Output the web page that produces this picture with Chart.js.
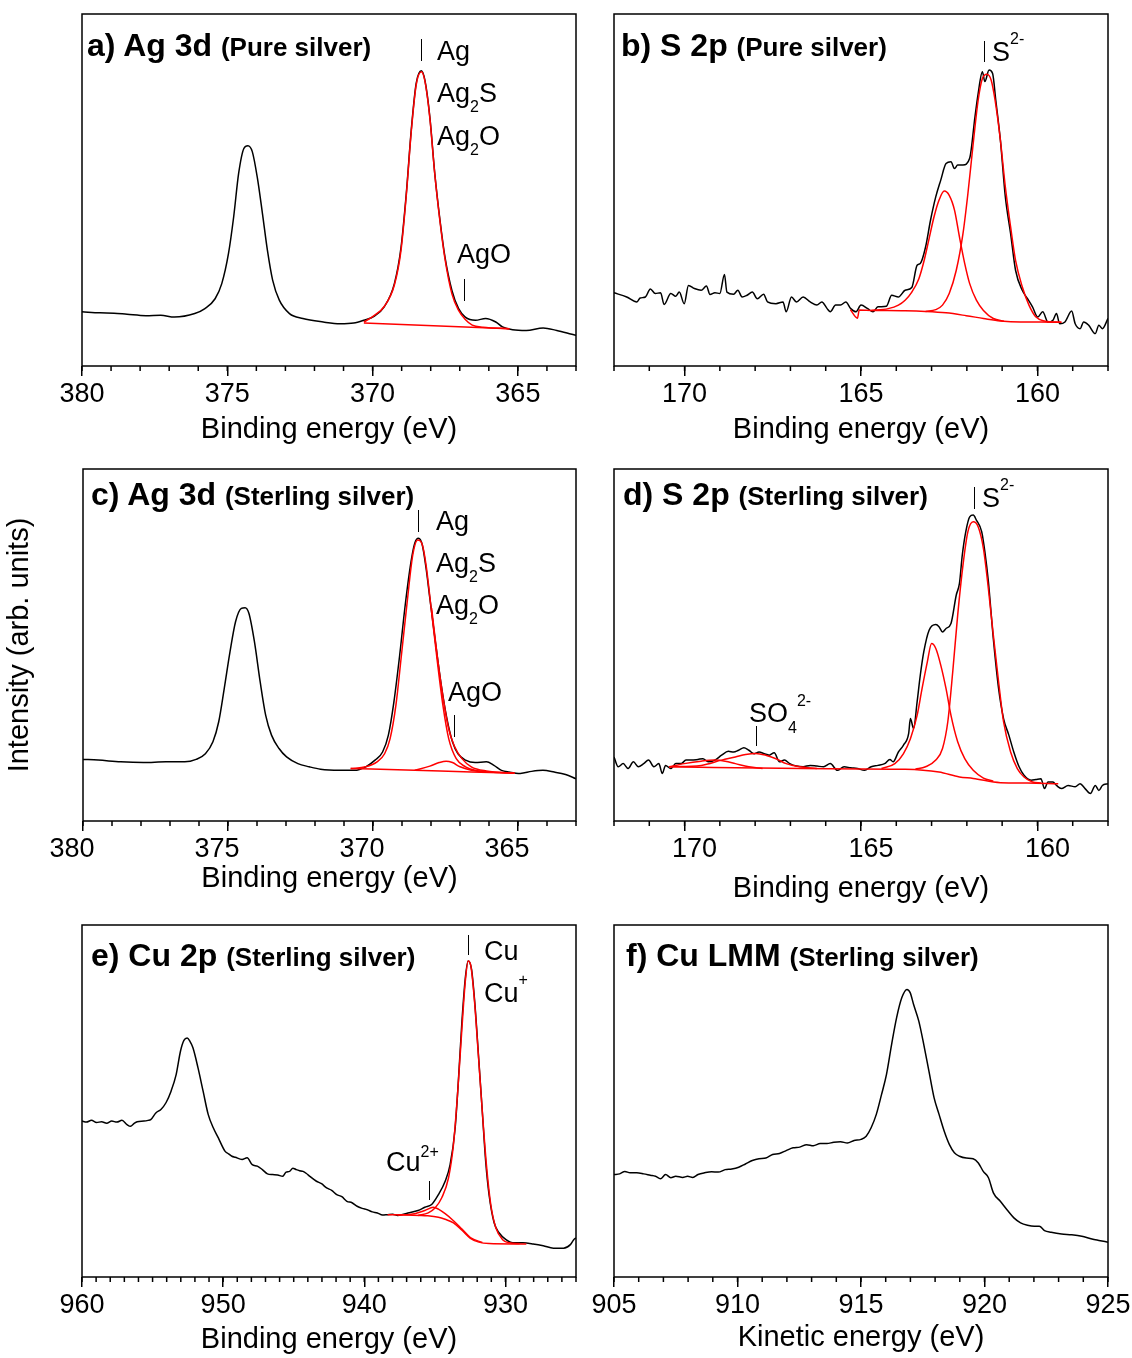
<!DOCTYPE html>
<html lang="en">
<head>
<meta charset="UTF-8">
<title>XPS spectra</title>
<style>
  html, body { margin: 0; padding: 0; background: #fff; overflow: hidden; }
  body { width: 1132px; height: 1358px; position: relative; font-family: "Liberation Sans", Arial, sans-serif; color: #000; }
  canvas { position: absolute; }
  .txt { position: absolute; line-height: 1; white-space: nowrap; }
  .txt sub, .txt sup { font-size: 16px; line-height: 0; }
  .bar { position: absolute; width: 0; border-left: 1.5px solid #000; }
</style>
<script src="https://cdn.jsdelivr.net/npm/chart.js"></script>
</head>
<body>
<script>
// tick labels
const ag3dTicks = [380, 375, 370, 365];
const s2pTicks = [170, 165, 160];
const cu2pTicks = [960, 950, 940, 930];
const lmmTicks = [905, 910, 915, 920, 925];

// a) Ag 3d, pure silver  [energy eV, intensity arb.]
const agPureExp = [[380.00,15.4],[379.38,15.1],[378.90,15.0],[378.45,14.7],[377.80,14.3],[377.29,14.4],[376.82,13.9],[376.12,14.9],[375.77,16.3],[375.42,19.1],[375.19,23.4],[374.96,31.9],[374.78,42.4],[374.61,54.7],[374.43,61.8],[374.29,62.6],[374.14,60.9],[373.97,53.7],[373.79,43.3],[373.62,32.9],[373.44,24.4],[373.21,18.7],[372.86,14.9],[372.40,13.5],[371.70,12.5],[371.12,12.0],[370.65,12.2],[370.30,13.0],[369.95,14.1],[369.60,16.8],[369.25,23.4],[369.02,33.8],[368.84,49.0],[368.67,67.0],[368.50,80.3],[368.32,83.9],[368.20,81.2],[368.03,70.8],[367.86,54.7],[367.68,41.4],[367.51,31.0],[367.27,21.5],[367.04,16.3],[366.81,13.9],[366.46,13.0],[366.11,13.5],[365.76,12.5],[365.53,11.1],[365.18,10.3],[364.71,10.1],[364.13,10.8],[363.66,10.1],[363.31,9.4],[363.00,8.7]];
const agPureFit = [[370.30,12.5],[369.95,14.3],[369.60,16.9],[369.25,23.0],[369.02,33.0],[368.84,48.5],[368.67,66.5],[368.50,79.8],[368.32,83.6],[368.20,81.0],[368.03,70.5],[367.86,54.5],[367.68,41.0],[367.51,30.5],[367.27,20.5],[367.04,15.8],[366.81,13.2],[366.57,11.6],[366.20,11.0],[365.29,10.6]];
const agPureBase = [[370.30,12.2],[365.29,10.6]];

// b) S 2p, pure silver
const sPureExp = [[172.00,20.8],[171.64,19.6],[171.35,18.2],[171.26,19.3],[171.11,19.6],[170.97,21.9],[170.83,20.6],[170.68,20.8],[170.58,17.5],[170.39,20.6],[170.25,19.8],[170.15,21.0],[170.01,17.7],[169.89,22.9],[169.72,22.0],[169.53,21.5],[169.38,22.7],[169.28,20.3],[169.14,20.8],[169.00,20.6],[168.87,26.0],[168.80,21.0],[168.61,20.4],[168.49,21.5],[168.37,19.6],[168.23,20.1],[168.08,21.0],[167.94,19.1],[167.76,20.4],[167.65,18.2],[167.41,17.7],[167.21,18.2],[167.12,15.4],[166.97,19.6],[166.83,18.2],[166.64,19.6],[166.44,18.2],[166.25,17.3],[166.11,18.2],[165.96,16.3],[165.87,15.4],[165.72,17.3],[165.58,17.3],[165.43,18.2],[165.29,16.3],[165.14,15.4],[165.00,17.3],[164.81,16.3],[164.66,15.4],[164.52,16.8],[164.28,17.0],[164.13,20.1],[163.94,19.6],[163.75,21.5],[163.56,22.3],[163.41,28.6],[163.32,29.1],[163.17,33.8],[163.03,41.4],[162.88,48.1],[162.74,52.8],[162.59,57.5],[162.45,58.0],[162.35,56.1],[162.26,57.1],[162.11,57.1],[161.92,59.0],[161.77,70.8],[161.68,77.4],[161.56,83.6],[161.49,80.8],[161.37,84.1],[161.27,83.1],[161.18,75.5],[161.05,64.2],[160.91,48.1],[160.76,37.6],[160.62,27.2],[160.43,21.5],[160.28,19.1],[160.14,16.8],[159.99,13.9],[159.85,15.4],[159.70,12.5],[159.56,13.0],[159.46,14.9],[159.37,12.0],[159.22,12.5],[159.03,15.6],[158.93,12.0],[158.79,10.6],[158.69,12.5],[158.55,11.6],[158.36,9.2],[158.26,11.6],[158.16,10.6],[158.00,13.5]];
const sPureComp1 = [[164.71,15.8],[164.23,16.3],[163.94,17.3],[163.75,18.7],[163.56,21.0],[163.36,24.8],[163.22,29.6],[163.07,36.2],[162.93,42.4],[162.79,47.1],[162.64,49.7],[162.50,48.5],[162.35,44.3],[162.21,36.7],[162.06,29.1],[161.92,23.4],[161.73,18.7],[161.53,15.8],[161.25,13.5],[160.95,12.7]];
const sPureComp2 = [[163.17,15.5],[162.88,16.0],[162.69,17.3],[162.50,20.6],[162.30,27.2],[162.11,37.6],[161.97,49.0],[161.82,63.2],[161.68,75.5],[161.56,81.7],[161.43,82.9],[161.31,81.2],[161.20,75.5],[161.05,64.2],[160.91,50.9],[160.76,39.5],[160.62,30.0],[160.43,22.5],[160.24,17.3],[160.04,13.9],[159.80,12.8],[159.32,12.4]];
const sPureBase = [[165.30,16.0],[165.10,13.6],[165.05,15.9],[164.71,15.8],[163.75,15.7],[163.17,15.5],[162.59,15.1],[162.02,14.3],[161.53,13.5],[161.05,12.8],[160.48,12.5],[159.90,12.5],[159.32,12.4]];

// c) Ag 3d, sterling silver
const agSterExp = [[380.00,17.5],[379.48,17.3],[378.70,16.8],[377.92,16.6],[377.14,16.8],[376.49,16.8],[376.10,17.5],[375.78,19.1],[375.52,22.5],[375.32,28.2],[375.13,37.6],[374.93,48.1],[374.74,56.6],[374.54,60.4],[374.41,60.6],[374.28,59.0],[374.09,51.0],[373.89,39.5],[373.70,30.0],[373.50,24.4],[373.24,20.6],[372.98,18.2],[372.59,16.3],[372.20,15.4],[371.81,14.7],[371.16,14.4],[370.64,14.4],[370.25,15.4],[369.93,17.3],[369.67,19.6],[369.47,24.4],[369.28,33.8],[369.08,47.1],[368.89,61.3],[368.69,73.6],[368.56,78.9],[368.43,80.3],[368.30,78.4],[368.17,71.8],[368.04,63.3],[367.85,51.0],[367.65,38.8],[367.46,29.4],[367.26,22.5],[367.07,19.1],[366.81,17.3],[366.48,16.6],[366.09,16.8],[365.83,15.8],[365.57,14.4],[365.31,13.9],[364.92,13.5],[364.53,14.1],[364.14,14.4],[363.75,13.9],[363.36,13.2],[363.00,12.0]];
const agSterFit = [[370.77,14.9],[370.25,15.4],[369.86,16.8],[369.60,19.1],[369.41,23.4],[369.21,32.9],[369.02,47.1],[368.82,62.3],[368.63,75.5],[368.46,79.8],[368.30,78.5],[368.17,72.7],[367.98,59.4],[367.78,45.2],[367.59,32.9],[367.39,23.4],[367.13,17.7],[366.81,15.4],[366.48,14.4],[365.96,13.9],[365.12,13.6]];
const agSterEnv = [[367.98,60.5],[367.78,46.6],[367.59,35.5],[367.39,26.2],[367.20,21.4],[366.94,17.8],[366.61,15.4],[366.09,14.2],[365.12,13.6]];
const agSterAgO = [[368.56,14.4],[368.04,15.6],[367.72,16.6],[367.48,17.0],[367.26,16.6],[367.00,15.4],[366.61,14.4],[366.22,13.9]];
const agSterBase = [[370.77,14.9],[368.56,14.4],[366.61,13.9],[365.12,13.6]];

// d) S 2p, sterling silver
const sSterExp = [[172.00,18.2],[171.88,15.4],[171.74,16.3],[171.60,14.9],[171.45,16.8],[171.31,15.4],[171.16,16.3],[171.02,17.3],[170.87,15.4],[170.73,16.3],[170.63,13.5],[170.54,15.8],[170.39,14.9],[170.25,16.3],[170.10,16.3],[169.96,17.3],[169.81,17.3],[169.62,17.5],[169.48,17.7],[169.33,16.8],[169.14,17.3],[168.95,18.7],[168.76,19.8],[168.61,19.6],[168.47,20.1],[168.32,20.8],[168.18,20.1],[168.03,19.1],[167.89,19.6],[167.74,19.1],[167.60,18.7],[167.46,19.4],[167.31,16.8],[167.17,17.3],[167.02,16.3],[166.83,15.6],[166.64,15.4],[166.44,15.8],[166.25,15.6],[166.06,15.4],[165.87,16.3],[165.67,14.4],[165.48,15.4],[165.29,15.1],[165.10,14.9],[164.90,14.4],[164.71,15.4],[164.52,15.8],[164.33,16.3],[164.18,17.5],[164.09,16.8],[163.94,19.6],[163.80,21.5],[163.65,24.8],[163.60,29.1],[163.51,26.3],[163.41,33.8],[163.32,41.4],[163.22,48.1],[163.07,54.2],[162.88,55.8],[162.79,55.2],[162.69,53.7],[162.59,54.7],[162.45,56.1],[162.30,64.2],[162.21,67.5],[162.13,75.5],[162.03,82.2],[161.92,86.4],[161.82,86.9],[161.73,85.5],[161.58,82.2],[161.49,76.5],[161.39,68.0],[161.25,51.8],[161.10,37.6],[160.96,29.1],[160.81,24.4],[160.67,19.6],[160.52,15.4],[160.38,13.0],[160.18,11.6],[160.04,11.8],[159.90,12.0],[159.80,9.2],[159.70,11.1],[159.56,11.1],[159.46,10.1],[159.32,9.2],[159.13,10.1],[158.93,9.7],[158.79,10.6],[158.65,9.2],[158.50,7.8],[158.36,10.1],[158.26,8.7],[158.16,10.1],[158.00,10.6]];
const sSterSO4a = [[170.44,15.4],[169.53,15.8],[168.95,17.3],[168.56,18.2],[168.27,18.9],[167.98,19.2],[167.70,18.7],[167.41,17.7],[167.12,16.3],[166.73,15.4],[166.25,14.9]];
const sSterSO4b = [[170.44,15.4],[170.01,16.3],[169.53,17.0],[169.14,17.3],[168.85,17.0],[168.56,16.3],[168.18,15.4],[167.79,14.9]];
const sSterComp1 = [[164.42,14.9],[164.04,16.3],[163.80,19.1],[163.60,23.4],[163.41,30.0],[163.27,37.6],[163.12,45.2],[163.00,50.4],[162.88,49.0],[162.74,44.3],[162.59,37.6],[162.45,30.0],[162.26,22.5],[162.06,17.7],[161.82,14.4],[161.53,12.2],[161.25,11.3]];
const sSterComp2 = [[163.46,14.7],[163.17,15.4],[162.88,17.3],[162.69,20.6],[162.54,28.2],[162.40,42.4],[162.26,58.5],[162.11,72.7],[161.97,82.2],[161.82,85.0],[161.68,83.6],[161.53,77.4],[161.39,66.0],[161.25,52.8],[161.10,39.5],[160.96,28.2],[160.76,19.6],[160.57,14.9],[160.38,12.5],[160.14,11.1],[159.90,10.8]];
const sSterBase = [[170.44,15.4],[166.64,14.9],[163.75,14.7],[162.79,13.9],[162.21,12.5],[161.82,12.1],[161.05,10.9],[160.28,10.8],[159.41,10.6]];

// e) Cu 2p, sterling silver
const cuExp = [[960.00,44.3],[959.69,44.0],[959.33,44.5],[958.97,43.9],[958.61,44.1],[958.25,43.7],[957.89,44.3],[957.53,44.0],[957.17,44.5],[956.81,43.3],[956.57,42.8],[956.28,43.7],[956.09,44.1],[955.61,44.3],[955.32,44.5],[955.13,44.7],[954.77,46.6],[954.41,47.6],[954.05,49.5],[953.69,52.8],[953.33,57.5],[953.02,64.2],[952.78,67.2],[952.55,67.9],[952.36,67.0],[952.14,65.1],[951.78,59.4],[951.42,52.8],[951.06,46.2],[950.70,42.4],[950.34,39.5],[949.86,35.7],[949.62,35.0],[949.38,34.3],[949.14,34.0],[948.66,33.4],[948.30,33.9],[947.94,31.9],[947.58,31.5],[947.22,30.5],[946.86,29.3],[946.50,29.1],[946.14,29.0],[945.78,28.6],[945.54,29.8],[945.30,30.0],[945.06,30.9],[944.82,30.5],[944.58,30.2],[944.34,30.0],[944.10,29.4],[943.86,28.6],[943.39,27.2],[943.03,26.5],[942.67,25.3],[942.31,24.6],[941.95,23.4],[941.59,22.8],[941.23,21.5],[940.87,21.1],[940.51,20.1],[940.15,19.5],[939.79,19.1],[939.43,18.5],[939.07,18.2],[938.71,17.6],[938.35,17.7],[937.99,17.8],[937.63,17.5],[936.91,18.2],[936.19,18.9],[935.71,19.8],[935.23,20.6],[934.75,23.4],[934.27,27.2],[933.92,31.9],[933.56,42.4],[933.32,56.6],[933.08,72.7],[932.84,85.0],[932.64,89.8],[932.40,87.4],[932.16,77.4],[931.88,61.3],[931.64,47.1],[931.40,32.9],[931.16,23.4],[930.80,15.4],[930.44,12.5],[929.96,10.6],[929.48,9.7],[928.76,9.7],[928.04,9.4],[927.32,8.9],[926.60,8.2],[925.88,8.2],[925.40,9.2],[925.16,10.6],[925.00,11.1]];
const cuFit = [[936.19,17.5],[935.47,18.2],[934.99,19.6],[934.51,22.5],[934.03,28.2],[933.68,37.7],[933.36,53.8],[933.08,70.8],[932.84,84.1],[932.64,89.8],[932.45,88.4],[932.21,79.3],[931.92,63.2],[931.64,47.1],[931.35,32.0],[931.04,20.6],[930.68,14.0],[930.20,10.6],[929.72,9.7],[929.00,9.5]];
const cuFit2 = [[937.63,17.6],[936.43,18.0],[935.71,18.9],[935.11,19.8],[934.75,19.3],[934.27,18.0],[933.68,16.0],[933.08,13.6],[932.48,11.2],[931.64,9.8]];
const cuBase = [[938.35,17.7],[937.00,17.6],[935.50,17.4],[934.75,17.0],[934.27,16.4],[933.68,15.4],[933.08,13.3],[932.48,11.0],[931.88,9.9],[931.16,9.5],[929.50,9.4],[928.52,9.4]];

// f) Cu LMM, sterling silver (kinetic energy)
const cuLmmExp = [[905.00,29.1],[905.23,29.3],[905.44,30.0],[905.65,29.6],[905.92,29.6],[906.20,29.3],[906.47,28.9],[906.68,28.6],[906.88,27.9],[907.09,29.1],[907.30,28.2],[907.50,28.6],[907.78,28.3],[907.98,28.6],[908.19,28.3],[908.40,29.1],[908.67,29.6],[908.95,29.9],[909.22,29.8],[909.50,30.5],[909.77,30.7],[910.05,31.2],[910.32,32.1],[910.60,33.1],[910.87,33.6],[911.15,33.8],[911.42,34.8],[911.70,35.1],[911.97,35.9],[912.25,36.7],[912.52,36.9],[912.80,37.6],[913.07,37.3],[913.35,37.9],[913.62,37.9],[913.90,38.3],[914.17,38.4],[914.45,38.1],[914.72,38.8],[915.00,39.1],[915.21,40.0],[915.41,42.4],[915.62,46.2],[915.83,51.8],[916.03,57.5],[916.24,66.1],[916.44,73.6],[916.65,79.3],[916.86,81.7],[916.99,80.8],[917.13,77.4],[917.34,72.7],[917.54,66.1],[917.75,58.5],[917.96,50.9],[918.16,46.2],[918.37,41.4],[918.58,37.6],[918.78,35.3],[918.99,34.3],[919.26,33.8],[919.54,33.6],[919.75,32.4],[919.95,30.0],[920.16,28.2],[920.36,23.9],[920.64,21.5],[920.91,19.1],[921.19,16.8],[921.46,15.4],[921.74,14.7],[922.02,14.4],[922.22,14.4],[922.43,13.2],[922.70,12.7],[923.12,12.2],[923.53,12.0],[923.94,11.6],[924.35,10.8],[924.63,10.4],[925.00,9.9]];

const RED = '#ff0000';
const FONT = "'Liberation Sans', Arial, sans-serif";
Chart.defaults.font.family = FONT;
Chart.defaults.color = '#000';

const TITLE_SIZE = 29;

// frame box + short minor ticks every 1 eV
const framePlugin = {
    id: 'frame',
    afterDraw(chart) {
        const { ctx, chartArea } = chart;
        const { left, top, right, bottom } = chartArea;
        const x = chart.scales.x;
        ctx.save();
        ctx.strokeStyle = '#000';
        ctx.lineWidth = 1.5;
        ctx.strokeRect(left, top, right - left, bottom - top);
        ctx.beginPath();
        const lo = Math.ceil(Math.min(x.min, x.max));
        const hi = Math.floor(Math.max(x.min, x.max));
        for (let v = lo; v <= hi; v++) {
            const px = x.getPixelForValue(v);
            ctx.moveTo(px, bottom);
            ctx.lineTo(px, bottom + 5);
        }
        ctx.stroke();
        ctx.restore();
    }
};

const toXY = arr => arr.map(p => ({ x: p[0], y: p[1] }));

function makePanel(p) {
    const [l, t, r, b] = p.box;
    const padL = p.yTitle ? l : 40;
    const padR = 30, padT = 8, axisH = 95;
    const cv = document.createElement('canvas');
    cv.width = (r - l) + padL + padR;
    cv.height = (b - t) + padT + axisH;
    cv.style.left = (l - padL) + 'px';
    cv.style.top = (t - padT) + 'px';
    document.body.appendChild(cv);

    const datasets = p.fits.map(f => ({
        data: toXY(f), borderColor: RED, borderWidth: 1.5, pointRadius: 0,
        cubicInterpolationMode: 'monotone', fill: false
    }));
    datasets.push({
        data: toXY(p.exp), borderColor: '#000', borderWidth: 1.5, pointRadius: 0,
        cubicInterpolationMode: 'monotone', fill: false
    });

    return new Chart(cv, {
        type: 'line',
        data: { datasets },
        plugins: [framePlugin],
        options: {
            responsive: false,
            animation: false,
            layout: { padding: { left: 0, right: padR, top: padT, bottom: 0 } },
            plugins: { legend: { display: false }, tooltip: { enabled: false } },
            scales: {
                x: {
                    type: 'linear', min: p.min, max: p.max, reverse: p.reverse,
                    afterBuildTicks: s => { s.ticks = p.ticks.map(v => ({ value: v })); },
                    afterFit: s => { s.height = axisH; },
                    grid: { display: true, drawOnChartArea: false, drawTicks: true, tickLength: 10, color: '#000', lineWidth: 1.5 },
                    border: { display: false },
                    ticks: {
                        color: '#000', font: { size: 27 }, padding: 2, maxRotation: 0,
                        autoSkip: false, labelOffset: p.labelOffset || 0,
                        callback: v => String(v)
                    },
                    title: {
                        display: true, text: p.xTitle, color: '#000', font: { size: TITLE_SIZE },
                        padding: { top: 0, bottom: axisH - p.titleGap - TITLE_SIZE * 0.6 }
                    }
                },
                y: {
                    min: 0, max: 100,
                    grid: { display: false },
                    border: { display: false },
                    ticks: { display: false },
                    afterFit: s => { s.width = padL; },
                    title: p.yTitle
                        ? { display: true, text: p.yTitle, color: '#000', font: { size: TITLE_SIZE }, padding: { top: 3, bottom: 0 } }
                        : { display: false }
                }
            }
        }
    });
}

const panels = [
    { box: [82, 14, 576, 366], min: 363, max: 380, reverse: true, ticks: ag3dTicks, titleGap: 64,
      xTitle: 'Binding energy (eV)', exp: agPureExp, fits: [agPureFit, agPureBase] },
    { box: [614, 14, 1108, 366], min: 158, max: 172, reverse: true, ticks: s2pTicks, titleGap: 64,
      xTitle: 'Binding energy (eV)', exp: sPureExp, fits: [sPureComp2, sPureComp1, sPureBase] },
    { box: [83, 469, 576, 821], min: 363, max: 380, reverse: true, ticks: ag3dTicks, titleGap: 58, labelOffset: -11,
      xTitle: 'Binding energy (eV)', yTitle: 'Intensity (arb. units)', exp: agSterExp,
      fits: [agSterFit, agSterEnv, agSterAgO, agSterBase] },
    { box: [614, 469, 1108, 821], min: 158, max: 172, reverse: true, ticks: s2pTicks, titleGap: 68, labelOffset: 10,
      xTitle: 'Binding energy (eV)', exp: sSterExp,
      fits: [sSterComp2, sSterComp1, sSterSO4a, sSterSO4b, sSterBase] },
    { box: [82, 925, 576, 1277], min: 925, max: 960, reverse: true, ticks: cu2pTicks, titleGap: 63,
      xTitle: 'Binding energy (eV)', exp: cuExp, fits: [cuFit, cuFit2, cuBase] },
    { box: [614, 925, 1108, 1277], min: 905, max: 925, reverse: false, ticks: lmmTicks, titleGap: 61,
      xTitle: 'Kinetic energy (eV)', exp: cuLmmExp, fits: [] }
];
panels.forEach(makePanel);

// text annotations
function addText(x, base, html, size, bold) {
    const d = document.createElement('div');
    d.className = 'txt';
    d.style.left = x + 'px';
    d.style.top = (base - 0.8465 * size) + 'px';
    d.style.fontSize = size + 'px';
    if (bold) d.style.fontWeight = 'bold';
    d.innerHTML = html;
    document.body.appendChild(d);
}
function addBar(x, y1, y2) {
    const d = document.createElement('div');
    d.className = 'bar';
    d.style.left = x + 'px';
    d.style.top = y1 + 'px';
    d.style.height = (y2 - y1) + 'px';
    document.body.appendChild(d);
}
const small = s => '<span style="font-size:26px">' + s + '</span>';

addText(87, 56, 'a) Ag 3d ' + small('(Pure silver)'), 32, true);
addText(621, 56, 'b) S 2p ' + small('(Pure silver)'), 32, true);
addText(91, 505, 'c) Ag 3d ' + small('(Sterling silver)'), 32, true);
addText(623, 505, 'd) S 2p ' + small('(Sterling silver)'), 32, true);
addText(91, 966, 'e) Cu 2p ' + small('(Sterling silver)'), 32, true);
addText(626, 966, 'f) Cu LMM ' + small('(Sterling silver)'), 32, true);

const sub2 = '<sub style="vertical-align:-10px">2</sub>';
// a
addBar(421, 39, 61);
addText(437, 61, 'Ag', 27);
addText(437, 103, 'Ag' + sub2 + 'S', 27);
addText(437, 146, 'Ag' + sub2 + 'O', 27);
addText(457, 264, 'AgO', 27);
addBar(464, 279, 301);
// b
addBar(984, 41, 62);
addText(992, 62, 'S<sup style="vertical-align:17px">2-</sup>', 27);
// c
addBar(418, 510, 532);
addText(436, 531, 'Ag', 27);
addText(436, 573, 'Ag' + sub2 + 'S', 27);
addText(436, 615, 'Ag' + sub2 + 'O', 27);
addText(448, 702, 'AgO', 27);
addBar(454, 715, 737);
// d
addBar(974, 487, 509);
addText(982, 508, 'S<sup style="vertical-align:17px">2-</sup>', 27);
addText(749, 723, 'SO<sub style="vertical-align:-11px">4</sub><sup style="vertical-align:16px">2-</sup>', 27);
addBar(756, 726, 746);
// e
addBar(468, 935, 955);
addText(484, 961, 'Cu', 27);
addText(484, 1003, 'Cu<sup style="vertical-align:17px">+</sup>', 27);
addText(386, 1172, 'Cu<sup style="vertical-align:14px">2+</sup>', 27);
addBar(429, 1181, 1200);
</script>
</body>
</html>
